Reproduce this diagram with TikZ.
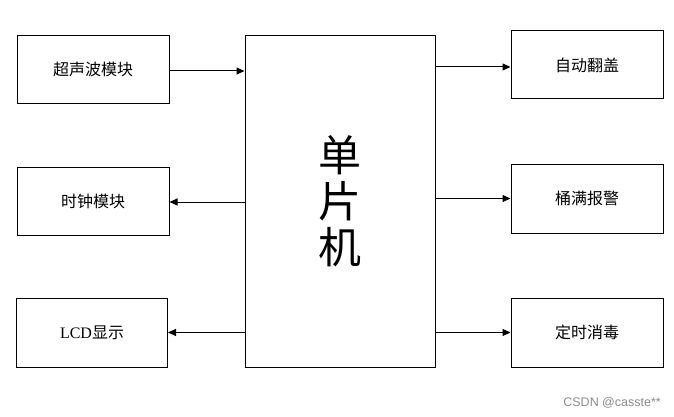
\documentclass[tikz,border=0pt]{standalone}
\usepackage{fontspec}
\newfontfamily\cjk{Noto Sans CJK SC}
\newfontfamily\wmfont{Liberation Sans}
\newfontfamily\latserif{Liberation Serif}
\usetikzlibrary{arrows.meta}
\begin{document}
\begin{tikzpicture}[x=1pt,y=-1pt,
  blk/.style={draw=black,line width=1pt,rectangle,inner sep=0pt,minimum width=152pt,minimum height=68pt,font=\cjk\fontsize{16}{19}\selectfont},
  arr/.style={draw=black,line width=1pt,-{Triangle[length=8pt,width=7pt]}}]
\useasboundingbox (0,0) rectangle (674,417);
\fill[white] (0,0) rectangle (674,417);
\node[blk] (L1) at (93,69.5) {超声波模块};
\node[blk] (L2) at (93,201) {时钟模块};
\node[blk,minimum width=151pt,minimum height=69pt] (L3) at (92,332.5) {{\latserif LCD}显示};
\node[draw=black,line width=1pt,rectangle,inner sep=0pt,minimum width=190pt,minimum height=331pt,align=center,font=\cjk\fontsize{43}{46}\selectfont] (C) at (340,201.5) {单\\片\\机};
\node[blk] (R1) at (587,65) {自动翻盖};
\node[blk,minimum height=69pt] (R2) at (587,198.5) {桶满报警};
\node[blk,minimum height=69pt] (R3) at (587,332.5) {定时消毒};
\draw[arr] ([yshift=-1.5pt]L1.east) -- ([yshift=-1.5pt]L1.east -| C.west);
\draw[arr] ([yshift=-1pt]L2.east -| C.west) -- ([yshift=-1pt]L2.east);
\draw[arr] (L3.east -| C.west) -- (L3.east);
\draw[arr] ([yshift=-2pt]R1.west -| C.east) -- ([yshift=-2pt]R1.west);
\draw[arr] (R2.west -| C.east) -- (R2.west);
\draw[arr] (R3.west -| C.east) -- (R3.west);
\node[font=\wmfont\fontsize{12.5}{14}\selectfont,text=black!45,anchor=east,inner sep=0pt] (wm) at (661,403) {CSDN @casste**};
\end{tikzpicture}
\end{document}
